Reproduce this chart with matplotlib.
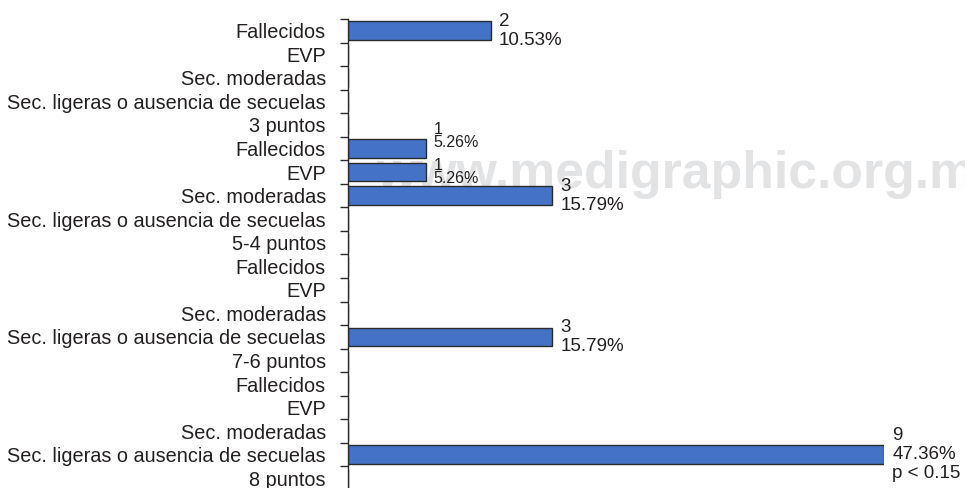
import numpy as np
import matplotlib
matplotlib.use("Agg")
import matplotlib.pyplot as plt

plt.rcParams['font.family'] = ['Liberation Sans', 'DejaVu Sans']

# Data: outcome per score group (rows read top to bottom, group name closes each block)
outcomes = ["Fallecidos", "EVP", "Sec. moderadas", "Sec. ligeras o ausencia de secuelas"]
groups = ["3 puntos", "5-4 puntos", "7-6 puntos", "8 puntos"]
counts = [[2, 0, 0, 0],
          [1, 1, 3, 0],
          [0, 0, 0, 3],
          [0, 0, 0, 9]]
percents = [["10.53%", "", "", ""],
            ["5.26%", "5.26%", "15.79%", ""],
            ["", "", "", "15.79%"],
            ["", "", "", "47.36%"]]
p_note = "p < 0.15"
watermark = "www.medigraphic.org.mx"

# build the flat list of rows
row_labels = []
row_counts = []
row_pcts = []
for g, grp in enumerate(groups):
    for k, name in enumerate(outcomes):
        row_labels.append(name)
        row_counts.append(counts[g][k])
        row_pcts.append(percents[g][k])
    row_labels.append(grp)
    row_counts.append(0)
    row_pcts.append("")

n = len(row_labels)
y = np.arange(n)

fig = plt.figure(figsize=(9.65, 4.88), dpi=100)

# watermark behind everything
fig.text(376 / 965, 1 - 188 / 488, watermark, fontsize=37.3, fontweight='bold',
         color='#e2e3e5', ha='left', va='baseline', zorder=-1)

ax = fig.add_axes([348 / 965, 1 - 490 / 488, (884 - 348) / 965, (490 - 19) / 488])
ax.patch.set_visible(False)

# the source axis is slightly compressed toward the long bar
ax.set_xscale('function', functions=(lambda v: np.sign(v) * np.abs(v) ** 0.88,
                                     lambda v: np.sign(v) * np.abs(v) ** (1 / 0.88)))

ax.barh(y, row_counts, height=0.8, color='#4472c4', edgecolor='#2b2b2b', linewidth=1.0)

ax.set_xlim(0, 9)
ax.set_ylim(n - 0.5, -0.5)

# value labels
last = max(i for i in range(n) if row_counts[i] > 0)
first_small = True
for i in range(n):
    c = row_counts[i]
    if c <= 0:
        continue
    txt = "%d\n%s" % (c, row_pcts[i])
    if i == last:
        txt += "\n" + p_note
    if c == 1:
        size, ls = 11.5, 0.9
        dy = 9 if first_small else 0
        first_small = False
    else:
        size, ls, dy = 13.5, 1.15, 0
    ax.annotate(txt, xy=(c, i), xytext=(6, dy), textcoords='offset points',
                ha='left', va='center', fontsize=size, linespacing=ls,
                color='#231f20', annotation_clip=False)

# labels at row centres, ticks at row boundaries
ax.set_yticks(y)
ax.set_yticklabels(row_labels, fontsize=14.3, color='#231f20')
ax.tick_params(axis='y', which='major', length=0, pad=16)
ax.set_yticks(np.arange(n + 1) - 0.5, minor=True)
ax.tick_params(axis='y', which='minor', length=6, width=1, color='#2b2b2b')

ax.set_xticks([])
ax.xaxis.set_minor_locator(matplotlib.ticker.NullLocator())
for s in ['top', 'right', 'bottom']:
    ax.spines[s].set_visible(False)
ax.spines['left'].set_color('#2b2b2b')
ax.spines['left'].set_linewidth(1)

fig.savefig("out.png", dpi=100)
